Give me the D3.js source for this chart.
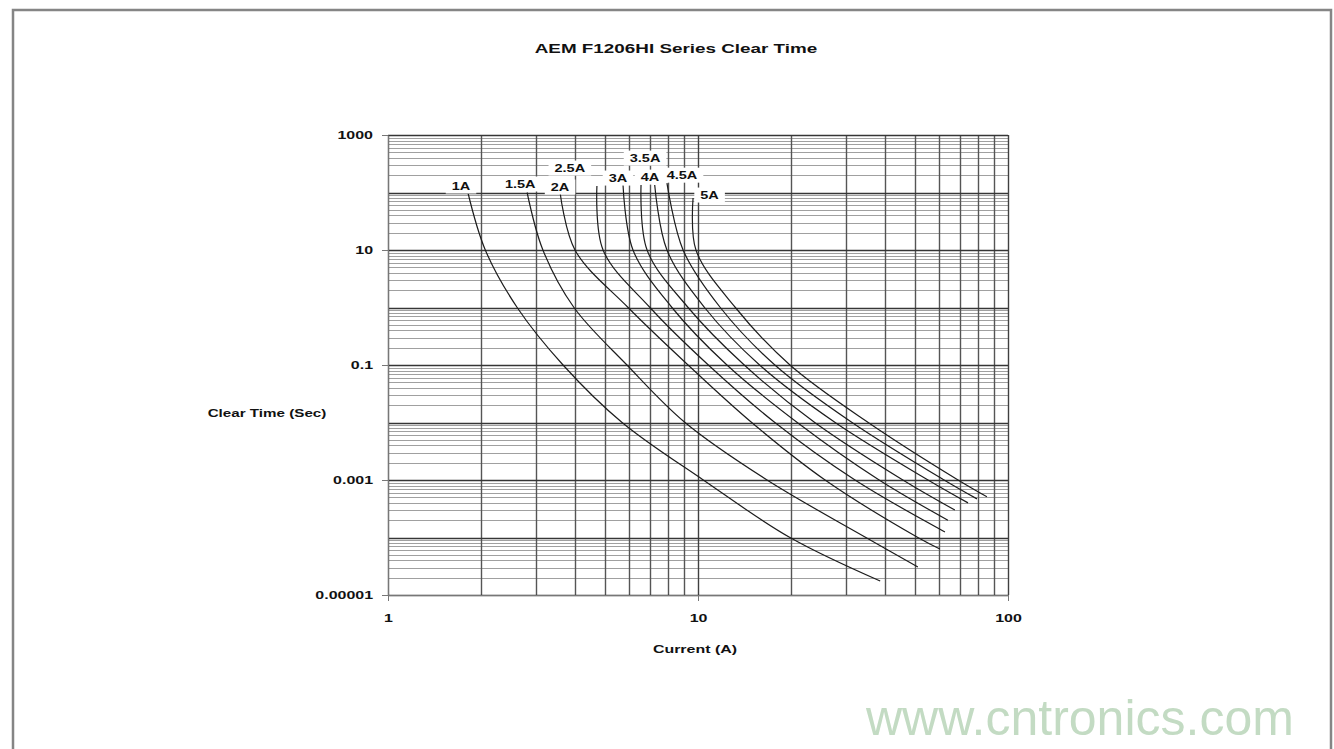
<!DOCTYPE html>
<meta charset="utf-8">
<html>
<!-- Load d3.js -->
<script src="https://d3js.org/d3.v7.min.js"></script>
<style>
    body { margin: 0; background: #fff; }
    text { font-family: "Liberation Sans", Arial, sans-serif; }
</style>
<title>AEM F1206HI Series Clear Time</title>

<body>
    <div id="chart"></div>
    <script>

        // Fuse curves: [current (A), clear time (s)]
        var fuse1A = [[1.81, 100], [2.06, 10], [2.61, 1], [3.67, 0.1], [5.69, 0.01], [10.4, 0.001], [19.8, 0.0001], [38.7, 0.0000175]];
        var fuse1_5A = [[2.81, 100], [3.16, 10], [3.98, 1], [5.90, 0.1], [9.08, 0.01], [16.7, 0.001], [34.8, 0.0001], [51.2, 0.0000307]];
        var fuse2A = [[3.59, 100], [4.01, 10], [5.95, 1], [9.29, 0.1], [14.9, 0.01], [25.7, 0.001], [51.2, 0.0001], [60.3, 0.000063]];
        var fuse2_5A = [[4.72, 130], [4.94, 10], [7.0, 1], [10.8, 0.1], [17.7, 0.01], [32.1, 0.001], [62.6, 0.000125]];
        var fuse3A = [[5.73, 135], [6.17, 10], [8.24, 1], [12.4, 0.1], [20.9, 0.01], [38.4, 0.001], [64.0, 0.0002]];
        var fuse3_5A = [[6.55, 135], [6.85, 10], [9.29, 1], [14.1, 0.1], [23.8, 0.01], [45.8, 0.001], [67.4, 0.0003]];
        var fuse4A = [[7.25, 135], [7.94, 10], [10.5, 1], [15.8, 0.1], [27.7, 0.01], [55.2, 0.001], [74.3, 0.0004]];
        var fuse4_5A = [[7.94, 146], [8.95, 10], [11.8, 1], [17.7, 0.1], [31.4, 0.01], [62.2, 0.001], [79.4, 0.00047]];
        var fuse5A = [[9.64, 80], [9.85, 10], [13.2, 1], [19.8, 0.1], [35.4, 0.01], [69.0, 0.001], [85.5, 0.00051]];

        var seriesNames = ["1A", "1.5A", "2A", "2.5A", "3A", "3.5A", "4A", "4.5A", "5A"];
        var seriesData = [fuse1A, fuse1_5A, fuse2A, fuse2_5A, fuse3A, fuse3_5A, fuse4A, fuse4_5A, fuse5A];

        // Where each curve's name sits, in data units
        var labelAt = [[1.72, 130], [2.67, 141], [3.59, 125], [3.86, 267], [5.52, 179], [6.75, 398], [7.0, 186], [8.88, 201], [10.9, 90.6]];

        // Tick labels
        var xTicks = [1, 10, 100];
        var xTickText = ["1", "10", "100"];
        var yTicks = [1000, 10, 0.1, 0.001, 0.00001];
        var yTickText = ["1000", "10", "0.1", "0.001", "0.00001"];

        // Page and plot area
        var W = 1334, H = 749;
        var plot = { left: 388, right: 1008, top: 135, bottom: 595 };
        var stretchX = 1.45;   // the source picture is stretched sideways

        var svg = d3.select("#chart")
            .append("svg")
            .attr("width", W)
            .attr("height", H);

        // Outer frame
        svg.append("rect")
            .attr("x", 13).attr("y", 10)
            .attr("width", 1318).attr("height", 745)
            .attr("fill", "#fff")
            .attr("stroke", "#858585")
            .attr("stroke-width", 2.5);

        // Scales
        var x = d3.scaleLog().domain([1, 100]).range([plot.left, plot.right]);
        var y = d3.scaleLog().domain([0.00001, 1000]).range([plot.bottom, plot.top]);

        function isDecade(v) {
            var l = Math.log10(v);
            return Math.abs(l - Math.round(l)) < 1e-9;
        }

        // Horizontal gridlines (minor first, majors on top)
        var yGrid = y.ticks();
        svg.append("g").selectAll("line")
            .data(yGrid.filter(function (d) { return !isDecade(d); }))
            .enter().append("line")
            .attr("x1", plot.left).attr("x2", plot.right)
            .attr("y1", function (d) { return Math.round(y(d)) + 0.5; })
            .attr("y2", function (d) { return Math.round(y(d)) + 0.5; })
            .attr("stroke", "#a0a0a0")
            .attr("stroke-width", 1);

        // Vertical gridlines
        svg.append("g").selectAll("line")
            .data(x.ticks())
            .enter().append("line")
            .attr("x1", function (d) { return Math.round(x(d)) + 0.5; })
            .attr("x2", function (d) { return Math.round(x(d)) + 0.5; })
            .attr("y1", plot.top).attr("y2", plot.bottom)
            .attr("stroke", function (d) { return isDecade(d) ? "#404040" : "#555"; })
            .attr("stroke-width", 1.4);

        svg.append("g").selectAll("line")
            .data(yGrid.filter(isDecade))
            .enter().append("line")
            .attr("x1", plot.left).attr("x2", plot.right)
            .attr("y1", function (d) { return Math.round(y(d)) + 0.5; })
            .attr("y2", function (d) { return Math.round(y(d)) + 0.5; })
            .attr("stroke", "#363636")
            .attr("stroke-width", 1.4);

        // Stretch text sideways like the source
        function stretch(sel, k) {
            sel.each(function () {
                var w = this.getComputedTextLength();
                d3.select(this)
                    .attr("textLength", w * k)
                    .attr("lengthAdjust", "spacingAndGlyphs");
            });
        }

        // Y axis
        var yAxis = svg.append("g")
            .attr("transform", "translate(" + plot.left + ",0)")
            .call(d3.axisLeft(y)
                .tickValues(yTicks)
                .tickFormat(function (d, i) { return yTickText[i]; })
                .tickSizeInner(6).tickSizeOuter(0).tickPadding(9));
        yAxis.select(".domain").attr("stroke", "#777");
        yAxis.selectAll(".tick line").attr("stroke", "#777");
        yAxis.selectAll("text")
            .attr("font-family", "Liberation Sans, Arial, sans-serif")
            .attr("font-size", 11).attr("font-weight", "bold").attr("fill", "#111")
            .call(stretch, stretchX);

        // X axis
        var xAxis = svg.append("g")
            .attr("transform", "translate(0," + plot.bottom + ")")
            .call(d3.axisBottom(x)
                .tickValues(xTicks)
                .tickFormat(function (d, i) { return xTickText[i]; })
                .tickSizeInner(6).tickSizeOuter(0).tickPadding(13));
        xAxis.select(".domain").attr("stroke", "#777");
        xAxis.selectAll(".tick line").attr("stroke", "#777");
        xAxis.selectAll("text")
            .attr("font-family", "Liberation Sans, Arial, sans-serif")
            .attr("font-size", 11).attr("font-weight", "bold").attr("fill", "#111")
            .call(stretch, stretchX);

        // Curves
        var line = d3.line()
            .x(function (d) { return x(d[0]); })
            .y(function (d) { return y(d[1]); })
            .curve(d3.curveCatmullRom.alpha(0.5));

        svg.append("g").selectAll("path")
            .data(seriesData)
            .enter().append("path")
            .attr("d", line)
            .attr("fill", "none")
            .attr("stroke", "#1c1c1c")
            .attr("stroke-width", 1.2);

        // Curve names with white boxes
        var labels = svg.append("g").selectAll("g")
            .data(seriesNames)
            .enter().append("g");
        labels.append("text")
            .attr("x", function (d, i) { return x(labelAt[i][0]); })
            .attr("y", function (d, i) { return y(labelAt[i][1]); })
            .attr("dy", "0.36em")
            .attr("text-anchor", "middle")
            .attr("font-size", 10).attr("font-weight", "bold").attr("fill", "#111")
            .text(function (d) { return d; })
            .call(stretch, stretchX);
        labels.each(function () {
            var g = d3.select(this);
            var b = g.select("text").node().getBBox();
            g.insert("rect", "text")
                .attr("x", b.x - 6).attr("y", b.y - 2)
                .attr("width", b.width + 12).attr("height", b.height + 4)
                .attr("fill", "#fff");
        });

        // Titles
        svg.append("text")
            .attr("x", 676).attr("y", 53)
            .attr("text-anchor", "middle")
            .attr("font-size", 13).attr("font-weight", "bold").attr("fill", "#111")
            .text("AEM F1206HI Series Clear Time")
            .call(stretch, stretchX);

        svg.append("text")
            .attr("x", 267).attr("y", 417)
            .attr("text-anchor", "middle")
            .attr("font-size", 11).attr("font-weight", "bold").attr("fill", "#111")
            .text("Clear Time (Sec)")
            .call(stretch, 1.38);

        svg.append("text")
            .attr("x", 695).attr("y", 653)
            .attr("text-anchor", "middle")
            .attr("font-size", 11).attr("font-weight", "bold").attr("fill", "#111")
            .text("Current (A)")
            .call(stretch, stretchX);

        // Watermark
        svg.append("text")
            .attr("x", 866).attr("y", 735)
            .attr("font-size", 50).attr("fill", "#c3dbc3")
            .text("www.cntronics.com");

    </script>
</body>

</html>
